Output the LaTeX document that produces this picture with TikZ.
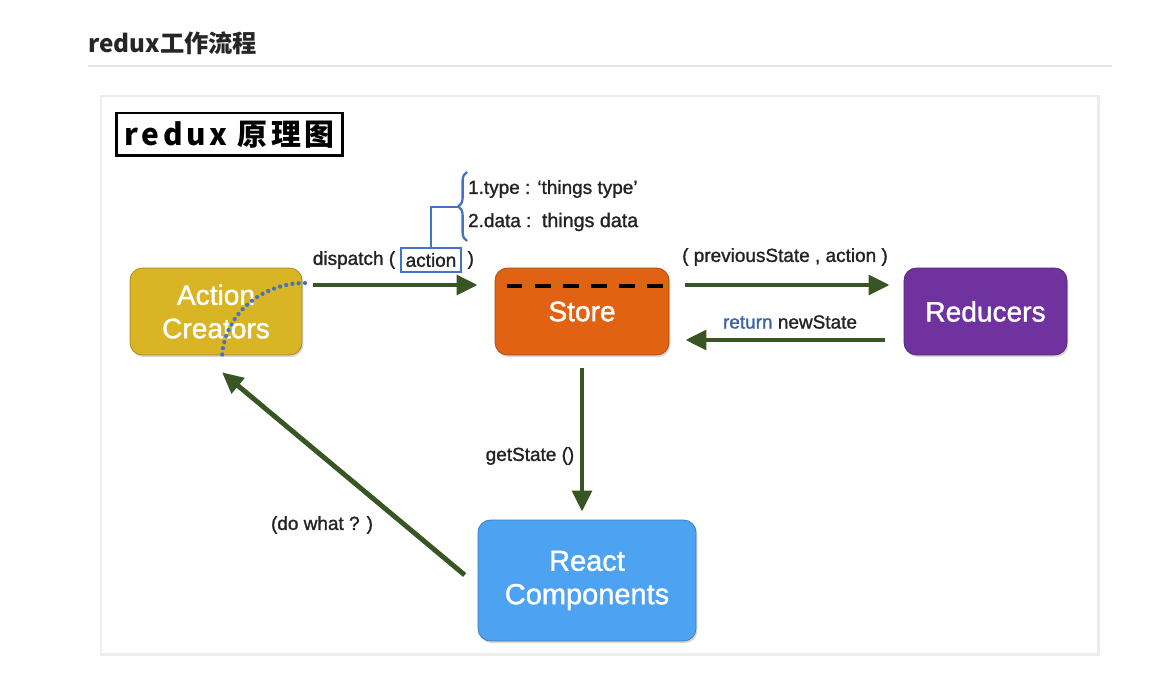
\documentclass[tikz,border=0pt]{standalone}
\usepackage{fontspec}
\setmainfont{Liberation Sans}
\newfontfamily\medsans[FakeBold=1.3]{Liberation Sans}
\newfontfamily\cjk{Noto Sans CJK SC}
\newfontfamily\cjkspaced[LetterSpace=12]{Noto Sans CJK SC}
\usetikzlibrary{shapes, arrows.meta, positioning, calc, decorations.pathreplacing, shadows}

\definecolor{actiongold}{RGB}{217,180,37}
\definecolor{storeorange}{RGB}{224,98,18}
\definecolor{reducerpurple}{RGB}{112,50,158}
\definecolor{reactblue}{RGB}{77,163,242}
\definecolor{arrowgreen}{RGB}{55,86,35}
\definecolor{braceblue}{RGB}{68,114,196}
\definecolor{labelgray}{RGB}{35,35,35}

\begin{document}
\begin{tikzpicture} [
    x=0.02cm, y=-0.02cm,
    component/.style={rectangle, draw=#1!75!black, thin, fill=#1, text=white, align=center, rounded corners=7pt, minimum height=1.74cm, font=\medsans\fontsize{16}{19}\selectfont, drop shadow={opacity=0.3, shadow xshift=0.8pt, shadow yshift=-1.2pt}},
    flow/.style={-{Triangle[length=12pt, width=11pt]}, line width=2.8pt, draw=arrowgreen},
    label/.style={font=\medsans\fontsize{10.8}{12}\selectfont, text=labelgray, inner sep=1pt}
]

% page and panel
\useasboundingbox (0,0) rectangle (1165,678);
\fill[white] (0,0) rectangle (1165,678);
\node[anchor=west, inner sep=0, font=\cjk\bfseries\fontsize{13.8}{16}\selectfont, text=black!85] (heading) at (88,43) {redux工作流程};
\draw[black!10, line width=0.6pt] (88,66) -- (1112,66);
\fill[black!7] (100,95) rectangle (1100,656);
\fill[white] (102,97) rectangle (1097,653);

\node[draw=black, line width=1.7pt, minimum width=4.54cm, minimum height=0.86cm, inner sep=0, font=\cjkspaced\bfseries\fontsize{17}{19}\selectfont] (diagtitle) at (229.5,134.5) {redux 原理图};

% components
\node[component=actiongold, minimum width=3.44cm] (action) at (216,311.5) {Action\\Creators};
\node[component=storeorange, minimum width=3.48cm] (store) at (582,311.5) {Store};
\node[component=reducerpurple, minimum width=3.26cm] (reducers) at (985.5,311.5) {Reducers};
\node[component=reactblue, minimum width=4.36cm, minimum height=2.42cm, font=\medsans\fontsize{16.5}{19}\selectfont] (react) at (587,580.5) {React\\Components};

\draw[black, line width=2.2pt, dash pattern=on 9pt off 7pt] ($(store.north west)+(12,18)$) -- ($(store.north east)+(0,18)$);

% dotted arc over action creators
\draw[braceblue, line width=2.4pt, dash pattern=on 0pt off 3.6pt, line cap=round] (305,283) arc[start angle=270, end angle=180, x radius=83, y radius=77];

% arrows
\draw[flow] ([xshift=0.22cm, yshift=0.53cm]action.east) -- ([xshift=-0.34cm, yshift=0.53cm]store.west);
\draw[flow] ([xshift=0.32cm, yshift=0.53cm]store.east) -- ([xshift=-0.28cm, yshift=0.53cm]reducers.west);
\draw[flow] ([xshift=-0.38cm, yshift=-0.57cm]reducers.west) -- ([xshift=0.32cm, yshift=-0.57cm]store.east);
\draw[flow] ([yshift=-0.26cm]store.south) -- ([yshift=0.16cm]store.south |- react.north);
\draw[flow] ([xshift=-0.26cm, yshift=0.11cm]react.west) -- ([xshift=0.12cm, yshift=-0.34cm]action.south);

% labels
\node[label] (dispatch) at (354,260) {dispatch (};
\node[label, draw=braceblue, line width=1.2pt, inner sep=2pt, minimum height=0.48cm, minimum width=1.2cm] (actionbox) at (431,260) {action};
\node[label, right=2pt of actionbox] (closeparen) {)};

\coordinate (bracetip) at (458,207);
\draw[braceblue, line width=1.3pt, decorate, decoration={brace, amplitude=5pt}] (467,241) -- (467,172);
\draw[braceblue, line width=1.3pt] (actionbox.north) |- (bracetip);
\node[label, anchor=west] (typeline) at (466,189) {1.type : ‘things type’};
\node[label, anchor=west] (dataline) at (466,222) {2.data :\ \ {\fontsize{11.2}{12}\selectfont things data}};

\node[label] (prevstate) at (785,257) {( previousState , action )};
\node[label] (newstate) at (790,322) {\textcolor{braceblue!85!black}{return} newState};
\node[label] (getstate) at (530,456) {getState ()};
\node[label] (dowhat) at (322,525) {(do what ? )};

\end{tikzpicture}
\end{document}
